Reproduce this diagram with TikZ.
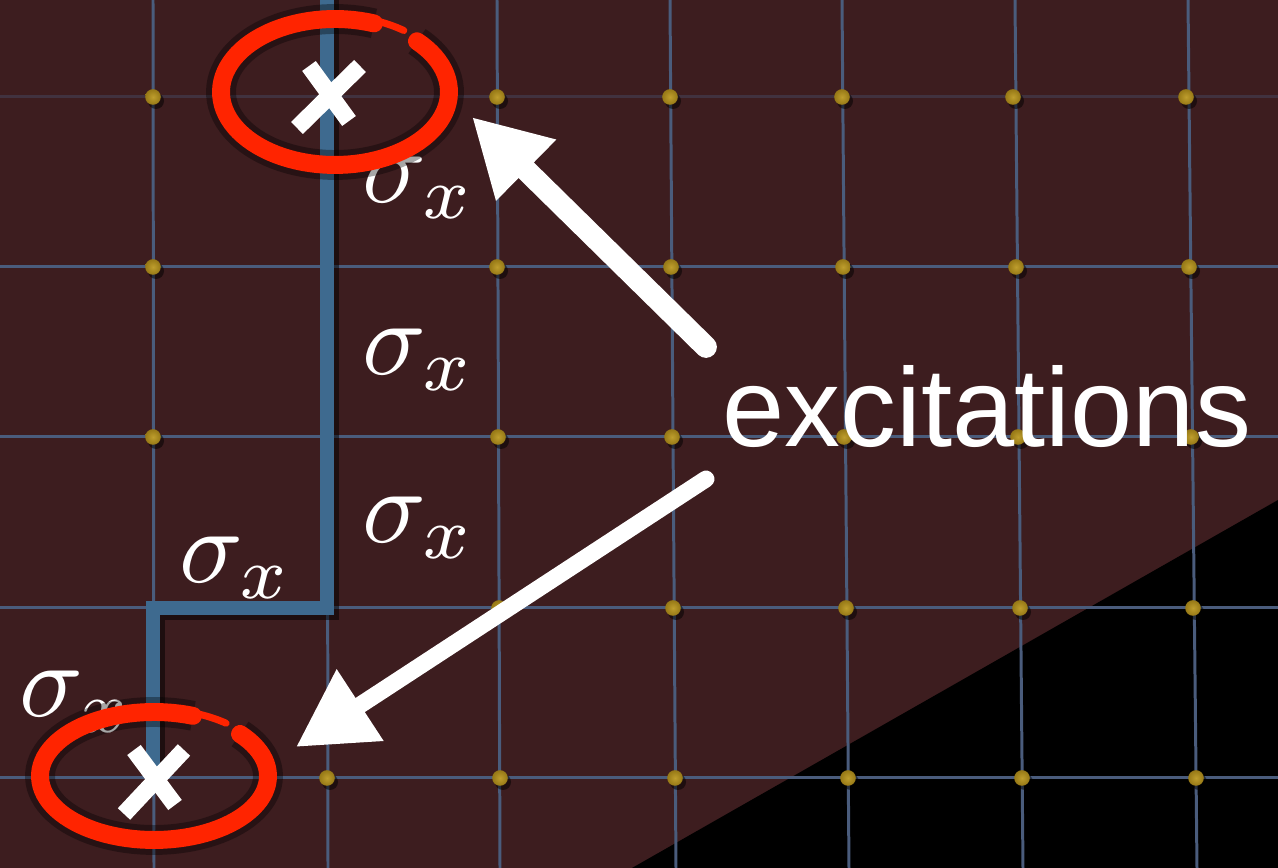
\documentclass[tikz,border=0pt]{standalone}
\usepackage{fontspec}
\newfontfamily\labelfont{Liberation Sans}
\usetikzlibrary{arrows.meta}
\definecolor{bgmaroon}{RGB}{61,29,31}
\definecolor{gridblue}{RGB}{74,92,124}
\definecolor{pathblue}{RGB}{62,106,143}
\definecolor{dotgold}{RGB}{150,120,22}
\definecolor{dotlight}{RGB}{190,158,45}
\definecolor{markred}{RGB}{255,36,0}
\begin{document}
\begin{tikzpicture}[x=0.01cm,y=-0.01cm,
  gridline/.style={draw=gridblue,line width=0.85pt},
  dotshadow/.style={fill=black,opacity=0.5},
  gdot/.style={inner color=dotlight,outer color=dotgold},
  chain/.style={draw=pathblue,line width=3.9pt,line join=miter},
  chainshadow/.style={draw=black,opacity=0.5,line width=3.9pt,line join=miter},
  sig/.style={anchor=base west,inner sep=0pt,text=white,scale=3},
  ring/.style={draw=markred,line width=5.1pt,line cap=round},
  ringtail/.style={draw=markred,line width=2pt,line cap=round},
  ringglow/.style={draw=black,opacity=0.35,line width=8.5pt},
  cross/.style={draw=white,line width=4.8pt},
  pointer/.style={draw=white,line cap=round},
  word/.style={anchor=base west,inner sep=0pt,text=white,font=\labelfont\fontsize{31.8}{38}\selectfont}]
\useasboundingbox (0,0) rectangle (1278,868);
% background
\fill[bgmaroon] (0,0) rectangle (1278,868);
\fill[black] (632,868) -- (1278,500) -- (1278,868) -- cycle;
% grid
\foreach \xt/\xb in {153/154,327/328,497/500,670/676,842/849,1015/1023,1188/1197}
  \draw[gridline] (\xt,0) -- (\xb,868);
\draw[gridline,opacity=0.35] (0,97) -- (1278,97);
\foreach \y in {267,437,608,778}
  \draw[gridline] (0,\y) -- (1278,\y);
% dots
\foreach \x/\y in {153/97,497/97,670/97,842/97,1013/97,1186/97,
                   153/267,497/267,671/267,843/267,1016/267,1189/267,
                   153/437,498/437,672/437,844/437,1018/437,1191/437,
                   499/608,673/608,846/608,1020/608,1193/608,
                   327/778,500/778,675/778,848/778,1022/778,1196/778}{
  \fill[dotshadow] (\x+3,\y+4) circle[radius=0.08cm];
  \shade[gdot] (\x,\y) circle[radius=0.078cm];
}
% string of sigma_x
\coordinate (p0) at (327,-10);
\coordinate (p1) at (327,608);
\coordinate (p2) at (153,608);
\coordinate (p3) at (153,782);
\draw[chainshadow] ([shift={(5,5)}]p0) -- ([shift={(5,5)}]p1) -- ([shift={(5,5)}]p2) -- ([shift={(5,5)}]p3);
\draw[chain] (p0) -- (p1) -- (p2) -- (p3);
% labels
\node[sig] (s1) at (360,203) {$\sigma_x$};
\node[sig] (s2) at (360,375) {$\sigma_x$};
\node[sig] (s3) at (360,543) {$\sigma_x$};
\node[sig] (s4) at (177,583) {$\sigma_x$};
\node[sig] (s5) at (17,717) {$\sigma_x$};
% rings
\draw[ringglow] plot[domain=-44:290,samples=90] ({335+114*cos(\x)},{92+73*sin(\x)});
\draw[ring] plot[domain=-44:290,samples=90] ({335+114*cos(\x)},{92+73*sin(\x)});
\draw[ringtail] plot[domain=285:306,samples=20] ({335+117*cos(\x)},{92+76*sin(\x)});
\draw[ringglow] plot[domain=-41:290,samples=90] ({154+114*cos(\x)},{776+64*sin(\x)});
\draw[ring] plot[domain=-41:290,samples=90] ({154+114*cos(\x)},{776+64*sin(\x)});
\draw[ringtail] plot[domain=285:308,samples=20] ({154+117*cos(\x)},{776+67*sin(\x)});
% crosses
\coordinate (xa1) at (309,66); \coordinate (xa2) at (349,121);
\coordinate (xb1) at (360,66); \coordinate (xb2) at (297,128);
\draw[cross] (xa1) -- (xa2);
\draw[cross] (xb1) -- (xb2);
\coordinate (ya1) at (134,750); \coordinate (ya2) at (175,805);
\coordinate (yb1) at (184,750); \coordinate (yb2) at (124,814);
\draw[cross] (ya1) -- (ya2);
\draw[cross] (yb1) -- (yb2);
% text
\node[word] (exc) at (722,447) {excitations};
% arrows
\coordinate (tail1) at (706,347);
\coordinate (tip1) at (472,117);
\coordinate (tail2) at (706,479);
\coordinate (tip2) at (296,747);
\draw[pointer,line width=6.2pt,-{Triangle[length=21.6pt,width=22.8pt]}] (tail1) -- (tip1);
\draw[pointer,line width=4.8pt,-{Triangle[length=21.8pt,width=23pt]}] (tail2) -- (tip2);
\end{tikzpicture}
\end{document}
